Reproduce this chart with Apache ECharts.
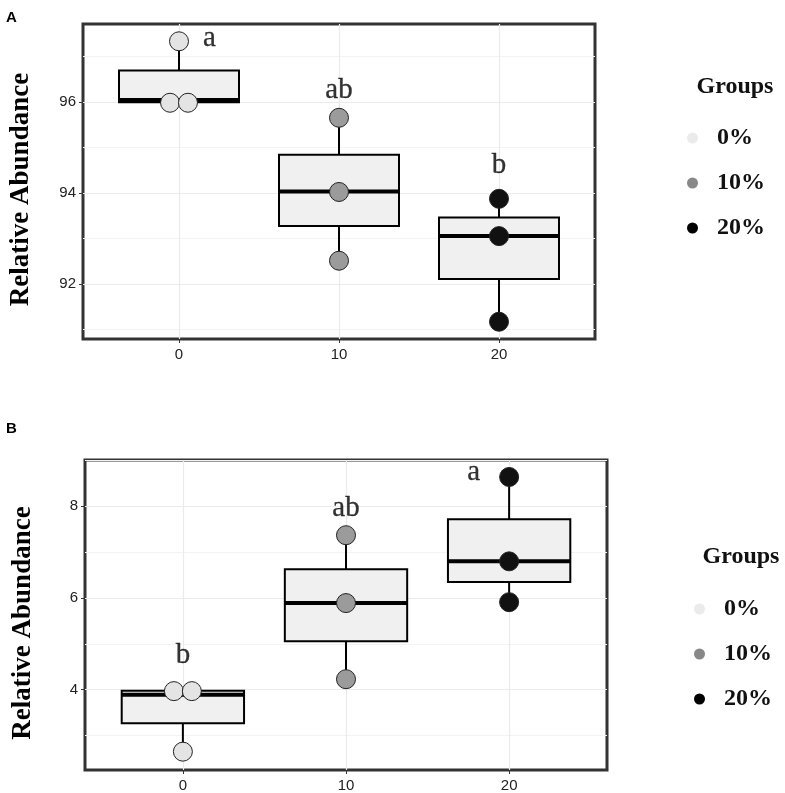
<!DOCTYPE html>
<html lang="en">
<head>
<meta charset="UTF-8">
<title>Relative Abundance</title>
<script src="https://cdn.jsdelivr.net/npm/echarts@6/dist/echarts.min.js"></script>
<style>
    html, body { margin: 0; padding: 0; background: #fff; }
    #chart { width: 785px; height: 793px; }
</style>
</head>
<body>
<div id="chart"></div>
<script>
    // shared
    var groups = ['0%', '10%', '20%'];
    var doseLabels = ['0', '10', '20'];
    var pointColors = ['#e4e4e4', '#9b9b9b', '#111111'];
    var legendColors = ['#ebebeb', '#888888', '#000000'];

    // panel A : min, Q1, median, Q3, max
    var statsA = [[95.97, 95.99, 96.04, 96.69, 97.33], [92.51, 93.27, 94.03, 94.84, 95.65], [91.17, 92.11, 93.05, 93.46, 93.87]];
    var pointsA = [[97.33, 95.98, 95.98], [95.65, 94.02, 92.51], [93.87, 93.05, 91.17]];
    var jitterA = [[0, -0.056, 0.056], [0, 0, 0], [0, 0, 0]];
    var lettersA = ['a', 'ab', 'b'];
    var letterYA = [97.39, 96.25, 94.6];
    var letterShiftA = [0.19, 0, 0];
    var yRangeA = [90.79, 97.71];
    var yMajorA = [92, 94, 96];
    var yMinorA = [91, 93, 95, 97];

    // panel B
    var statsB = [[2.65, 3.27, 3.89, 3.98, 3.98], [4.23, 5.06, 5.89, 6.63, 7.37], [5.91, 6.35, 6.80, 7.72, 8.64]];
    var pointsB = [[3.97, 3.97, 2.65], [7.37, 5.89, 4.23], [8.64, 6.80, 5.91]];
    var jitterB = [[-0.055, 0.055, 0], [0, 0, 0], [0, 0, 0]];
    var lettersB = ['b', 'ab', 'a'];
    var letterYB = [4.76, 7.96, 8.75];
    var letterShiftB = [0, 0, -0.217];
    var yRangeB = [2.25, 9.01];
    var yMajorB = [4, 6, 8];
    var yMinorB = [3, 5, 7, 9];

    var xRange = [-0.6, 2.6];
    var xTicks = [0, 1, 2];
    var boxHalf = 0.375;

    var myChart = echarts.init(document.getElementById('chart'));

    function renderBox(params, api) {
        var x = api.value(0);
        var lo = api.coord([x - boxHalf, api.value(2)]);
        var hi = api.coord([x + boxHalf, api.value(4)]);
        var m0 = api.coord([x - boxHalf, api.value(3)]);
        var m1 = api.coord([x + boxHalf, api.value(3)]);
        var wMin = api.coord([x, api.value(1)]);
        var wQ1 = api.coord([x, api.value(2)]);
        var wQ3 = api.coord([x, api.value(4)]);
        var wMax = api.coord([x, api.value(5)]);
        return {
            type: 'group',
            children: [
                {type: 'line', shape: {x1: wMin[0], y1: wMin[1], x2: wQ1[0], y2: wQ1[1]}, style: {stroke: '#000', lineWidth: 2}},
                {type: 'line', shape: {x1: wMax[0], y1: wMax[1], x2: wQ3[0], y2: wQ3[1]}, style: {stroke: '#000', lineWidth: 2}},
                {type: 'rect', shape: {x: lo[0], y: hi[1], width: hi[0] - lo[0], height: lo[1] - hi[1]},
                    style: {fill: '#f0f0f0', stroke: '#000', lineWidth: 2}},
                {type: 'line', shape: {x1: m0[0], y1: m0[1], x2: m1[0], y2: m1[1]}, style: {stroke: '#000', lineWidth: 4}}
            ]
        };
    }

    function panelSeries(idx, stats, points, jitter, letters, letterY, letterShift) {
        var out = [];
        out.push({
            type: 'custom',
            xAxisIndex: idx,
            yAxisIndex: idx * 2,
            renderItem: renderBox,
            encode: {x: 0, y: [1, 2, 3, 4, 5]},
            data: stats.map(function (s, i) { return [i].concat(s); }),
            silent: true,
            z: 2
        });
        for (var g = 0; g < groups.length; g++) {
            var pts = [];
            for (var k = 0; k < points[g].length; k++) {
                pts.push([g + jitter[g][k], points[g][k]]);
            }
            out.push({
                name: groups[g],
                type: 'scatter',
                xAxisIndex: idx,
                yAxisIndex: idx * 2,
                symbol: 'circle',
                symbolSize: 19,
                itemStyle: {color: pointColors[g], borderColor: '#222', borderWidth: 1, opacity: 1},
                data: pts,
                z: 3
            });
        }
        // significance letters
        out.push({
            type: 'scatter',
            xAxisIndex: idx,
            yAxisIndex: idx * 2,
            symbolSize: 1,
            itemStyle: {color: 'rgba(0,0,0,0)'},
            silent: true,
            label: {
                show: true,
                position: 'inside',
                formatter: '{b}',
                fontFamily: 'Liberation Serif',
                fontSize: 29,
                color: '#000',
                textBorderColor: '#000',
                textBorderWidth: 0.3
            },
            data: letters.map(function (t, i) { return {name: t, value: [i + letterShift[i], letterY[i]]}; }),
            z: 4
        });
        return out;
    }

    function xAxisFor(idx) {
        return {
            type: 'value',
            gridIndex: idx,
            min: xRange[0],
            max: xRange[1],
            axisLine: {show: false, onZero: false},
            axisTick: {show: true, length: 4, customValues: xTicks, lineStyle: {color: '#333', width: 1}},
            axisLabel: {
                customValues: xTicks,
                margin: 8,
                fontFamily: 'Liberation Sans',
                fontSize: 15,
                color: '#222',
                formatter: function (v) { return doseLabels[Math.round(v)]; }
            },
            splitLine: {show: true, lineStyle: {color: '#ebebeb', width: 1.2}}
        };
    }

    function yAxesFor(idx, range, major, minor) {
        return [{
            type: 'value',
            gridIndex: idx,
            position: 'left',
            min: range[0],
            max: range[1],
            name: 'Relative Abundance',
            nameLocation: 'middle',
            nameGap: 48,
            nameTextStyle: {fontFamily: 'Liberation Serif', fontWeight: 'bold', fontSize: 27, color: '#000', padding: [0, 16, 0, 0]},
            axisLine: {show: false, onZero: false},
            axisTick: {show: true, length: 4, customValues: major, lineStyle: {color: '#333', width: 1}},
            axisLabel: {customValues: major, margin: 7, fontFamily: 'Liberation Sans', fontSize: 15, color: '#222'},
            splitLine: {show: true, lineStyle: {color: '#ebebeb', width: 1.2}}
        }, {
            type: 'value',
            gridIndex: idx,
            position: 'left',
            min: range[0],
            max: range[1],
            axisLine: {show: false, onZero: false},
            axisTick: {show: false, customValues: minor},
            axisLabel: {show: false},
            splitLine: {show: true, lineStyle: {color: '#f3f3f3', width: 1}}
        }];
    }

    function legendFor(left, top) {
        return {
            orient: 'vertical',
            left: left,
            top: top,
            itemWidth: 11,
            itemHeight: 13,
            itemGap: 21,
            icon: 'circle',
            selectedMode: false,
            textStyle: {fontFamily: 'Liberation Serif', fontWeight: 'bold', fontSize: 24, color: '#111', padding: [0, 0, 0, 14]},
            data: groups.map(function (g, i) {
                return {name: g, itemStyle: {color: legendColors[i], borderWidth: 0}};
            })
        };
    }

    var option = {
        animation: false,
        backgroundColor: '#fff',
        grid: [
            {left: 82, top: 24, width: 513, height: 315, show: true, borderColor: '#333', borderWidth: 3, backgroundColor: '#fff'},
            {left: 85, top: 460, width: 522, height: 311, show: true, borderColor: '#333', borderWidth: 3, backgroundColor: '#fff'}
        ],
        xAxis: [xAxisFor(0), xAxisFor(1)],
        yAxis: yAxesFor(0, yRangeA, yMajorA, yMinorA).concat(yAxesFor(1, yRangeB, yMajorB, yMinorB)),
        legend: [legendFor(682, 121), legendFor(689, 592)],
        graphic: [
            {type: 'text', left: 6, top: 10, style: {text: 'A', font: 'bold 15px "Liberation Sans"', fill: '#000'}},
            {type: 'text', left: 6, top: 421, style: {text: 'B', font: 'bold 15px "Liberation Sans"', fill: '#000'}},
            {type: 'text', x: 735, y: 87, style: {text: 'Groups', font: 'bold 24px "Liberation Serif"', fill: '#111', align: 'center', verticalAlign: 'middle'}},
            {type: 'text', x: 741, y: 557, style: {text: 'Groups', font: 'bold 24px "Liberation Serif"', fill: '#111', align: 'center', verticalAlign: 'middle'}}
        ],
        series: panelSeries(0, statsA, pointsA, jitterA, lettersA, letterYA, letterShiftA)
            .concat(panelSeries(1, statsB, pointsB, jitterB, lettersB, letterYB, letterShiftB))
    };

    myChart.setOption(option);
</script>
</body>
</html>
